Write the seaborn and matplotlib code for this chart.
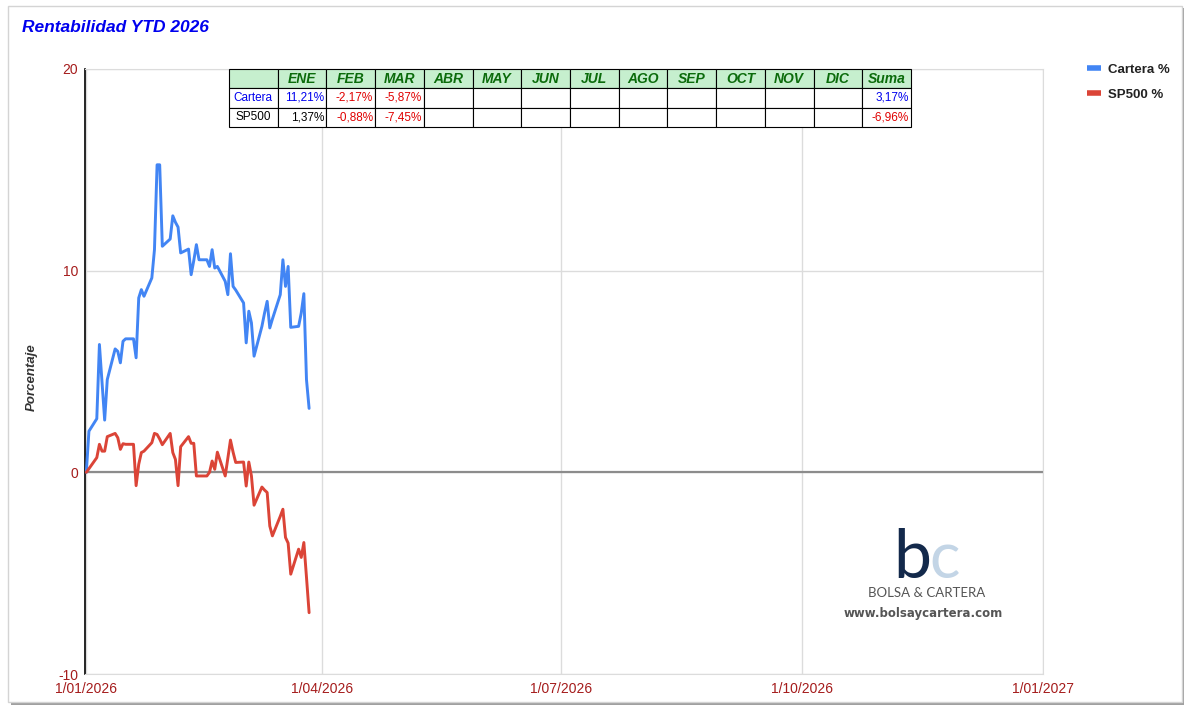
import seaborn as sns
import matplotlib.pyplot as plt
import pandas as pd
from matplotlib.patches import Rectangle

# daily YTD return (%) for each business day, 1 Jan - 27 Mar 2026
fechas = pd.bdate_range("2026-01-01", "2026-03-27")

cartera = [0, 2.04, 2.66, 6.34, 4.46, 2.59, 4.6, 6.12, 6.0, 5.43, 6.5, 6.62, 6.62, 5.68, 8.65, 9.06,
           8.73, 9.64, 11.04, 15.25, 15.25, 11.21,
           11.57, 12.72, 12.4, 12.16, 10.88, 11.07, 9.80, 10.5, 11.29, 10.54, 10.54, 10.21, 11.04,
           10.13, 10.21, 9.47, 8.81, 10.84, 9.22, 9.04,
           8.4, 6.42, 7.99, 7.41, 5.76, 7.24, 7.9, 8.48, 7.16, 7.6, 8.81, 10.54, 9.22, 10.21, 7.19,
           7.24, 7.9, 8.86, 4.60, 3.17]

sp500 = [0, 0.18, 0.73, 1.39, 1.05, 1.05, 1.77, 1.93, 1.72, 1.14, 1.42, 1.39, 1.39, -0.66, 0.40,
         0.98, 1.05, 1.47, 1.93, 1.88, 1.65, 1.37,
         1.93, 0.98, 0.64, -0.66, 1.27, 1.77, 1.44, 1.44, -0.18, -0.18, -0.18, 0, 0.56, 0.15, 1.0,
         -0.18, 0.7, 1.6, 1.0, 0.49,
         0.51, -0.68, 0.51, -0.18, -1.63, -0.73, -0.88, -1.0, -2.66, -3.15, -2.18, -1.83, -3.23,
         -3.51, -5.05, -3.81, -4.22, -3.48, -5.2, -6.96]

# monthly table
meses = ['ENE', 'FEB', 'MAR', 'ABR', 'MAY', 'JUN', 'JUL', 'AGO', 'SEP', 'OCT', 'NOV', 'DIC']
cartera_mes = [11.21, -2.17, -5.87]
sp500_mes = [1.37, -0.88, -7.45]
cartera_suma = 3.17
sp500_suma = -6.96

x_ticks = ["2026-01-01", "2026-04-01", "2026-07-01", "2026-10-01", "2027-01-01"]
y_ticks = [-10, 0, 10, 20]

AZUL = '#4285f4'
ROJO = '#db4437'
TICK = '#a51c1c'

df = pd.DataFrame({"fecha": list(fechas) * 2,
                   "valor": cartera + sp500,
                   "serie": ["Cartera %"] * len(fechas) + ["SP500 %"] * len(fechas)})

sns.set_style("white")
plt.rcParams['font.family'] = ['Liberation Sans', 'DejaVu Sans']
plt.rcParams['axes.unicode_minus'] = False

fig = plt.figure(figsize=(11.9, 7.11), dpi=100)
W, H = 1190, 711

# card + shadow
fig.patches.append(Rectangle((11 / W, 1 - 705 / H), 1173 / W, 697 / H, transform=fig.transFigure,
                             facecolor='#a0a0a0', edgecolor='none', zorder=-3))
fig.patches.append(Rectangle((8 / W, 1 - 702 / H), 1174 / W, 696 / H, transform=fig.transFigure,
                             facecolor='white', edgecolor='#d4d4d4', lw=1, zorder=-2))

ax = fig.add_axes([85 / W, 1 - 674 / H, 958 / W, 605 / H])
ax.patch.set_alpha(0)

sns.lineplot(data=df, x="fecha", y="valor", hue="serie", palette=[AZUL, ROJO],
             linewidth=2.1, ax=ax, zorder=3)

ax.axhline(0, color='#8c8c8c', lw=1.6, zorder=2)
ax.set_ylim(-10, 20)
ax.set_xlim(pd.Timestamp("2025-12-31 12:00"), pd.Timestamp("2026-12-31 12:00"))
ax.set_yticks(y_ticks)
ax.set_xticks([pd.Timestamp(d) for d in x_ticks])
ax.set_xticklabels([f"{pd.Timestamp(d).day}/{pd.Timestamp(d).month:02d}/{pd.Timestamp(d).year}" for d in x_ticks])
ax.grid(True, color='#dcdcdc', lw=1)
ax.tick_params(length=0, labelsize=10, labelcolor=TICK)
ax.tick_params(axis='y', pad=5)
ax.tick_params(axis='x', pad=5.5)
for s in ['top', 'right', 'bottom']:
    ax.spines[s].set_color('#dcdcdc')
ax.spines['left'].set_color('black')
ax.spines['left'].set_linewidth(1.2)

ax.set_xlabel("")
ax.set_ylabel("Porcentaje", fontsize=9.5, fontweight='bold', fontstyle='italic', color='#333333')
ax.yaxis.set_label_coords(-0.049, 0.49)

# legend to the right of the plot
handles, labels = ax.get_legend_handles_labels()
for h in handles:
    h.set_linewidth(4)
    h.set_solid_capstyle('butt')
leg = ax.legend(handles, labels, loc='upper left', bbox_to_anchor=(1075 / W, 1 - 52 / H),
                bbox_transform=fig.transFigure, frameon=False, handlelength=1.05,
                handletextpad=0.55, labelspacing=0.95, prop={'size': 9.5, 'weight': 'bold'})
for t in leg.get_texts():
    t.set_color('#222222')

# title
fig.text(22 / W, 1 - 28 / H, "Rentabilidad YTD 2026", fontsize=12.5, fontweight='bold',
         fontstyle='italic', color='#0000ee', ha='left', va='center')


# monthly table
def fmt(v):
    return f"{v:.2f}%".replace('.', ',')


fila_c = ["Cartera"] + [fmt(v) for v in cartera_mes] + [""] * (12 - len(cartera_mes)) + [fmt(cartera_suma)]
fila_s = ["SP500"] + [fmt(v) for v in sp500_mes] + [""] * (12 - len(sp500_mes)) + [fmt(sp500_suma)]
cabecera = [""] + meses + ["Suma"]

tabla = ax.table(cellText=[cabecera, fila_c, fila_s], cellLoc='center',
                 bbox=[(229 - 85) / 958, 1 - 58 / 605, 682 / 958, 58 / 605])
tabla.auto_set_font_size(False)
tabla.set_zorder(5)
for (r, c), cell in tabla.get_celld().items():
    cell.set_edgecolor('black')
    cell.set_linewidth(0.8)
    cell.PAD = 0.04
    txt = cell.get_text()
    if r == 0:
        cell.set_facecolor('#c6efce')
        cell.set_text_props(fontsize=10, fontweight='bold', fontstyle='italic', color='#0b6b0b')
        continue
    cell.set_facecolor('white')
    txt.set_fontsize(8.5)
    if c == 0:
        txt.set_color('#0000ee' if r == 1 else 'black')
        continue
    txt.set_ha('right')
    s = txt.get_text()
    if s.startswith('-'):
        txt.set_color('#e00000')
    elif r == 1:
        txt.set_color('#0000ee')
    else:
        txt.set_color('black')

# logo
fig.text(931 / W, 1 - 578 / H, "b", fontsize=49, family='Lato', color='#13294b',
         ha='right', va='baseline')
fig.text(929 / W, 1 - 578 / H, "c", fontsize=46, family='Lato', color='#c3d5e6',
         ha='left', va='baseline')
fig.text(927 / W, 1 - 593 / H, "BOLSA & CARTERA", fontsize=9.5, family='Lato', color='#555555',
         ha='center', va='center')
fig.text(923 / W, 1 - 614 / H, "www.bolsaycartera.com", fontsize=8.5, family='DejaVu Sans',
         fontweight='bold', color='#555555', ha='center', va='center')

plt.savefig('out.png', dpi=100)
